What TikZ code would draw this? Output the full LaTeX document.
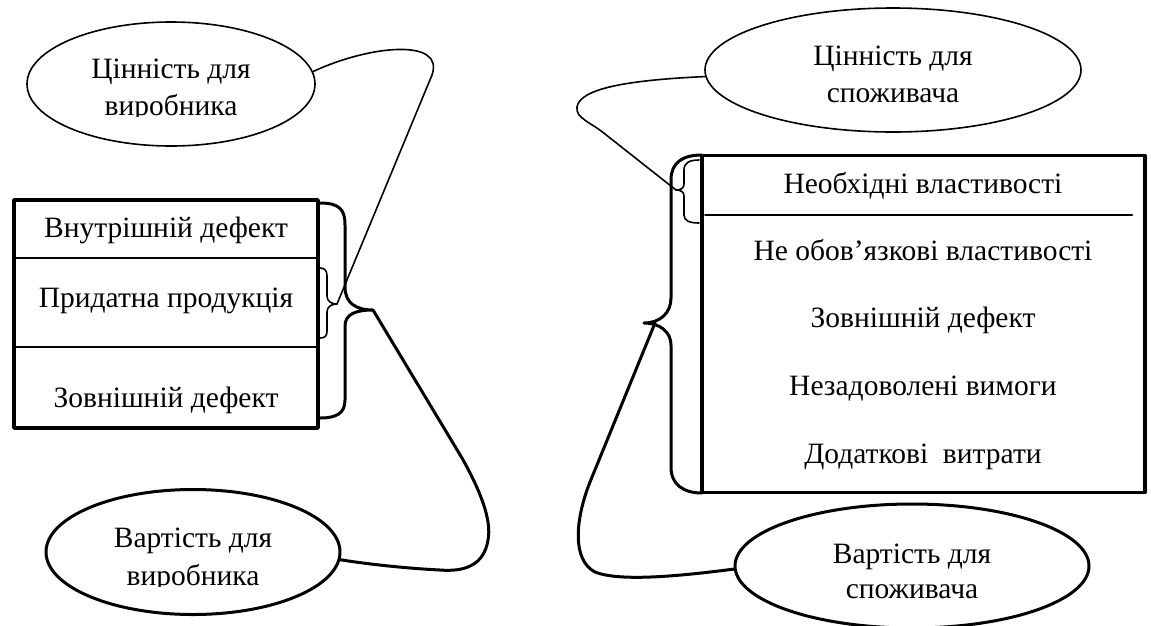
\documentclass[tikz,border=0pt]{standalone}
\usepackage{fontspec}
\setmainfont{Liberation Serif}
\newfontfamily\labelfont{Liberation Serif}
\usetikzlibrary{shapes.geometric}

\begin{document}
\begin{tikzpicture}[x=1pt,y=-1pt,
  thinline/.style={line width=1.6pt},
  thickline/.style={line width=3pt},
  oval/.style={ellipse, draw, inner sep=0pt},
  frame/.style={draw, line width=3.6pt, inner sep=0pt},
  lbl/.style={font=\labelfont\fontsize{29.5}{34}\selectfont, anchor=base, inner sep=0pt},
  line cap=round, line join=round]
\useasboundingbox (0,0) rectangle (1151,625);

% ---------- producer side ----------
\node[oval, thinline, minimum width=288pt, minimum height=124pt] (pv) at (171,84) {};
\node[lbl] (pvA) at (171,78) {Цінність для};
\begin{scope}
  \clip (0,0) rectangle (1151,116);
  \node[lbl] (pvB) at (171,115) {виробника};
\end{scope}

\node[oval, thickline, minimum width=294pt, minimum height=125pt] (pc) at (193,552) {};
\node[lbl] (pcA) at (193,547) {Вартість для};
\begin{scope}
  \clip (0,0) rectangle (1151,586);
  \node[lbl] (pcB) at (193,585) {виробника};
\end{scope}

\node[frame, minimum width=304pt, minimum height=228pt] (lbox) at (166,314) {};
\draw[thinline, line cap=butt] (lbox.west |- 0,258) -- (lbox.east |- 0,258);
\draw[thinline, line cap=butt] (lbox.west |- 0,347) -- (lbox.east |- 0,347);
\node[lbl] (l1) at (166,237) {Внутрішній дефект};
\node[lbl] (l2) at (166,307) {Придатна продукція};
\node[lbl] (l3) at (166,407) {Зовнішній дефект};

% braces on the right of the left box
\coordinate (lbigtip) at (373,310);
\coordinate (lsmalltip) at (337,304);
\draw[thickline] (320,203) .. controls (340,203) and (345,210) .. (345,225)
  -- (345,287) .. controls (345,303) and (356,310) .. (lbigtip)
  .. controls (356,310) and (345,314) .. (345,326)
  -- (345,400) .. controls (345,413) and (337,418) .. (320,418);
\draw[thinline] (320,268) .. controls (325,268) and (327,271) .. (327,276)
  -- (327,296) .. controls (327,301) and (331,304) .. (lsmalltip)
  .. controls (331,304) and (327,307) .. (327,312)
  -- (327,331) .. controls (327,336) and (325,338) .. (320,338);

\draw[thinline] (pv.5) .. controls (370,45) and (445,38) .. (432,75) -- (lsmalltip);
\draw[thickline] (lbigtip) -- (462,458) .. controls (480,490) and (492,520) .. (488,540)
  .. controls (484,565) and (465,572) .. (440,570)
  .. controls (400,568) and (360,563) .. (pc.-3);

% ---------- consumer side ----------
\node[oval, thinline, minimum width=376pt, minimum height=124pt] (cv) at (893,70) {};
\node[lbl] (cvA) at (893,65) {Цінність для};
\node[lbl] (cvB) at (893,102) {споживача};

\node[oval, thickline, minimum width=354pt, minimum height=124pt] (cc) at (912,566) {};
\node[lbl] (ccA) at (912,563) {Вартість для};
\node[lbl] (ccB) at (912,598) {споживача};

\node[frame, minimum width=443pt, minimum height=337pt] (rbox) at (923.5,324) {};
\draw[line width=2pt] (705,215) -- (1132,215);
\node[lbl] (r1) at (923,193) {Необхідні властивості};
\node[lbl] (r2) at (923,260) {Не обов’язкові властивості};
\node[lbl] (r3) at (923,327) {Зовнішній дефект};
\node[lbl] (r4) at (923,395) {Незадоволені вимоги};
\node[lbl] (r5) at (923,463) {Додаткові\ \ витрати};

% braces on the left of the right box
\coordinate (rbigtip) at (644,323);
\coordinate (rsmalltip) at (676,190);
\coordinate (rlinestart) at (655,323);
\draw[thickline] (702,155) .. controls (682,155) and (671,163) .. (671,180)
  -- (671,298) .. controls (671,313) and (660,323) .. (rbigtip)
  .. controls (660,323) and (671,332) .. (671,345)
  -- (671,467) .. controls (671,485) and (684,493) .. (702,493);
\draw[thinline] (699,160) .. controls (689,160) and (684,163) .. (684,170)
  -- (684,184) .. controls (684,188) and (681,190) .. (rsmalltip)
  .. controls (681,190) and (684,192) .. (684,196)
  -- (684,215) .. controls (684,221) and (690,223) .. (699,223);

\draw[thinline] (cv.182) .. controls (630,80) and (580,88) .. (577,107)
  .. controls (575,118) and (592,123) .. (605,134) -- (rsmalltip);
\draw[thickline] (rlinestart) -- (590,482) .. controls (575,520) and (572,560) .. (595,572)
  .. controls (620,582) and (680,576) .. (cc.181);
\end{tikzpicture}
\end{document}
